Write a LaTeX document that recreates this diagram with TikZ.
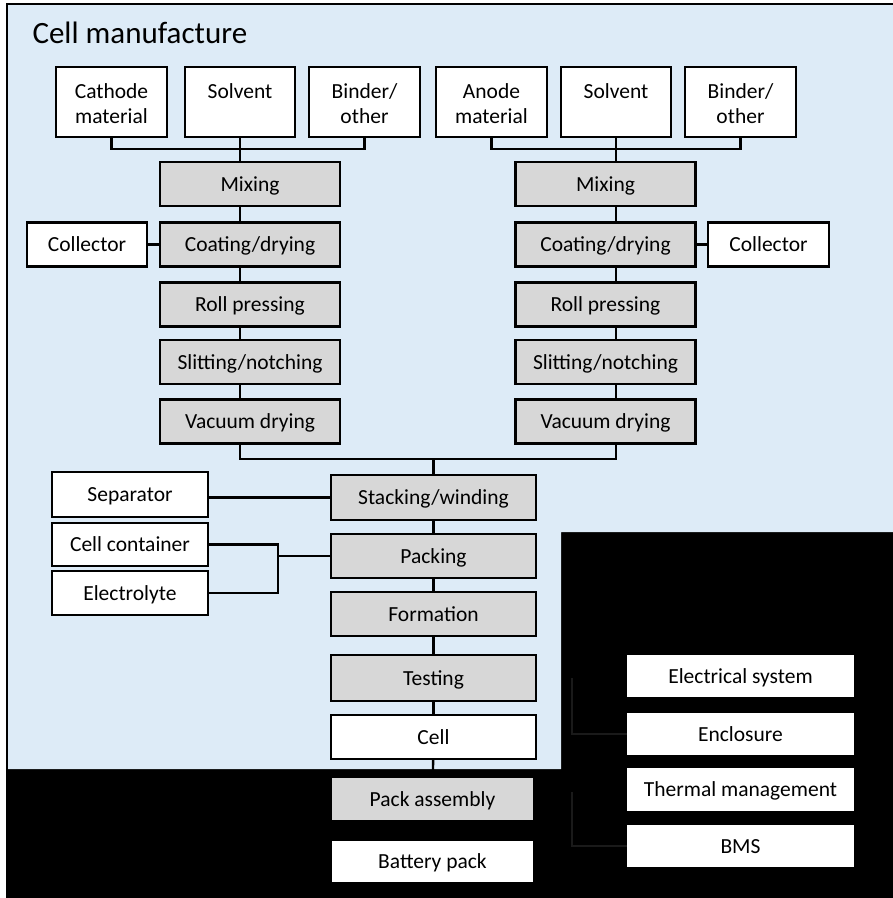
\documentclass[tikz,border=0pt]{standalone}
\usepackage{fontspec}
\setmainfont{Carlito}
\usepackage{tikz}
\usetikzlibrary{arrows}
\usepackage{color}
\definecolor{cellblue}{RGB}{221,235,247}
\definecolor{stepgray}{RGB}{215,215,215}
\definecolor{faintline}{RGB}{26,26,26}
\newcommand{\toptext}[1]{\parbox[c][36pt][t]{104pt}{\centering #1}}
\tikzset{
	rawbox/.style={draw=black,fill=white,line width=2.2pt,inner sep=0pt,font=\fontsize{21.5}{25}\selectfont},
	topbox/.style={rawbox,minimum height=70pt},
	linebox/.style={rawbox,text height=14pt,text depth=0pt,minimum height=44pt},
	stepbox/.style={linebox,fill=stepgray,minimum width=180pt},
	packbox/.style={fill=white,inner sep=0pt,text height=14pt,text depth=0pt,font=\fontsize{21.5}{25}\selectfont},
	link/.style={line width=2.4pt},
	faint/.style={draw=faintline,line width=1.2pt}
}
\begin{document}
\begin{tikzpicture}[x=1pt,y=-1pt]
		\useasboundingbox (0,0) rectangle (893,898);
		\fill[black] (6,3) rectangle (893,898); % pack area
		\fill[cellblue] (8,5) -- (893,5) -- (893,532) -- (561,532) -- (561,769) -- (8,769) -- cycle;
		\draw[line width=2pt] (7,898) -- (7,4) -- (893,4);
		\node[anchor=base west,font=\fontsize{31}{36}\selectfont] (title) at (29,43) {Cell manufacture};
		% raw materials
		\node[topbox,minimum width=111pt] (cath) at (111.5,102) {\toptext{Cathode\\material}};
		\node[topbox,minimum width=110pt] (solvL) at (240,102) {\toptext{Solvent}};
		\node[topbox,minimum width=111pt] (bindL) at (364.5,102) {\toptext{Binder/\\other}};
		\node[topbox,minimum width=111pt] (anod) at (491.5,102) {\toptext{Anode\\material}};
		\node[topbox,minimum width=110pt] (solvR) at (616,102) {\toptext{Solvent}};
		\node[topbox,minimum width=111pt] (bindR) at (740.5,102) {\toptext{Binder/\\other}};
		% electrode steps, edit here for both sides
		\foreach \s/\x in {L/250,R/605.5}
		{
		\node[stepbox] (mix\s) at (\x,184) {Mixing};
		\node[stepbox] (coat\s) at (\x,244.5) {Coating/drying};
		\node[stepbox] (roll\s) at (\x,304.5) {Roll pressing};
		\node[stepbox] (slit\s) at (\x,362) {Slitting/notching};
		\node[stepbox] (vac\s) at (\x,421.5) {Vacuum drying};
		}
		\node[linebox,minimum width=120pt] (collL) at (87,244.5) {Collector};
		\node[linebox,minimum width=121pt] (collR) at (768.5,244.5) {Collector};
		\draw[link] (cath.south) -- ++(0,11) -| (bindL.south);
		\draw[link] (anod.south) -- ++(0,11) -| (bindR.south);
		\draw[link] (solvL.south) -- (mixL.north -| solvL.south);
		\draw[link] (solvR.south) -- (mixR.north -| solvR.south);
		\foreach \s/\src in {L/solvL,R/solvR}
		\foreach \a/\b in {mix/coat,coat/roll,roll/slit,slit/vac}
		\draw[link] (\a\s.south -| \src) -- (\b\s.north -| \src);
		\draw[link] (collL) -- (coatL);
		\draw[link] (coatR) -- (collR);
		% cell assembly
		\node[linebox,fill=stepgray,minimum width=205pt,minimum height=45pt] (stack) at (433.5,497.5) {Stacking/winding};
		\node[linebox,fill=stepgray,minimum width=205pt] (pack) at (433.5,556) {Packing};
		\node[linebox,fill=stepgray,minimum width=205pt] (form) at (433.5,614) {Formation};
		\node[linebox,fill=stepgray,minimum width=205pt,minimum height=46pt] (test) at (433.5,678) {Testing};
		\node[linebox,minimum width=205pt] (cell) at (433.5,737) {Cell};
		\node[linebox,minimum width=156pt,minimum height=45pt] (sep) at (130,494.5) {Separator};
		\node[linebox,minimum width=156pt,minimum height=43pt] (cont) at (130,544.5) {Cell container};
		\node[linebox,minimum width=156pt] (elec) at (130,593) {Electrolyte};
		\coordinate (join) at (433.5,459);
		\coordinate (brk) at (278,556);
		\draw[link] (vacL.south -| solvL) |- (join) -| (vacR.south -| solvR);
		\draw[link] (join) -- (stack.north);
		\draw[link] (sep.east |- stack) -- (stack.west);
		\draw[link] (cont.east) -| (brk |- elec.east) -- (elec.east);
		\draw[link] (brk) -- (pack.west);
		\foreach \a/\b in {stack/pack,pack/form,form/test,test/cell}
		\draw[link] (\a) -- (\b);
		% pack assembly
		\node[packbox,fill=stepgray,minimum width=201pt,minimum height=42pt] (packasm) at (432.5,799) {Pack assembly};
		\node[packbox,minimum width=201pt,minimum height=41pt] (batt) at (432.5,861.5) {Battery pack};
		\draw[link] (cell) -- (packasm);
		\node[packbox,minimum width=227pt,minimum height=42pt] (elsys) at (740.5,676) {Electrical system};
		\node[packbox,minimum width=227pt,minimum height=42pt] (encl) at (740.5,734) {Enclosure};
		\node[packbox,minimum width=227pt,minimum height=43pt] (therm) at (740.5,789.5) {Thermal management};
		\node[packbox,minimum width=227pt,minimum height=42pt] (bms) at (740.5,846) {BMS};
		\coordinate (tapA) at (572,678);
		\coordinate (tapB) at (572,792);
		\draw[faint] (tapA) |- (encl.west);
		\draw[faint] (tapB) |- (bms.west);
		\end{tikzpicture}
\end{document}
